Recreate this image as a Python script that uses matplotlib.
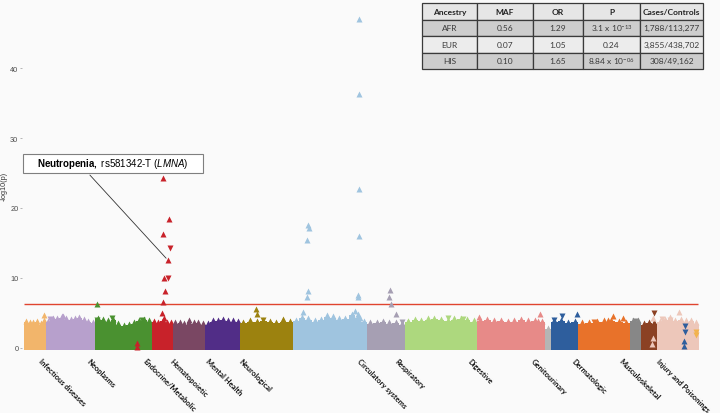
import numpy as np
import matplotlib
matplotlib.use("Agg")
import matplotlib.pyplot as plt
from matplotlib.patches import Rectangle

plt.rcParams["mathtext.fontset"] = "custom"
plt.rcParams["mathtext.rm"] = "Lato"
plt.rcParams["mathtext.bf"] = "Liberation Sans:bold"
plt.rcParams["mathtext.it"] = "Liberation Sans:italic"

# ---------------- data ----------------
cat_counts = [66, 147, 171, 63, 96, 105, 159, 222, 114, 216, 204, 18, 81, 156, 33, 48, 126]
cat_colors = ["#F2B56B", "#B7A0CC", "#4A9130", "#C8222A", "#7A4763", "#512D87",
              "#9C820F", "#9FC4DF", "#A69FB3", "#ADD87E", "#E78A88", "#B5B5B5",
              "#2E5E9D", "#E8722A", "#878787", "#8B4123", "#EDC7BA", "#F2B34E"]

# skyline of the dense mass of non-significant phenotypes (-log10 p), per category
skylines = [
    [3.6, 3.5, 3.4, 3.6, 3.3, 3.7],
    [3.6, 4.0, 4.1, 4.3, 4.0, 3.9, 4.1, 4.2, 3.9, 3.6, 3.5],
    [4.1, 3.9, 3.7, 3.9, 3.3, 3.1, 3.2, 3.4, 3.8, 3.9, 3.7],
    [3.6, 3.5, 3.8, 3.5, 3.4],
    [3.4, 3.5, 3.3, 3.7, 3.4, 3.5, 3.3],
    [3.3, 3.7, 3.8, 3.9, 3.8, 3.7, 3.6],
    [3.5, 3.7, 3.6, 3.8, 3.6, 3.5, 3.7, 3.6],
    [3.8, 4.2, 4.0, 3.7, 3.9, 4.4, 4.3, 4.0, 4.1, 4.6, 4.3, 3.6],
    [3.4, 3.5, 3.6, 3.4, 3.5, 3.3],
    [3.6, 3.9, 3.8, 4.0, 4.1, 3.9, 3.8, 4.0, 4.1, 3.9, 3.7],
    [3.8, 3.9, 3.7, 3.8, 3.6, 3.7, 3.9, 3.7, 3.8, 3.6],
    [2.6],
    [3.7, 3.8, 3.5, 3.6],
    [3.4, 3.5, 3.6, 3.7, 3.8, 3.6, 3.5],
    [3.8, 3.7],
    [3.3, 3.5, 3.4],
    [3.6, 3.9, 4.2, 3.8, 3.9, 3.7, 3.8, 3.4],
]

# individual phenotypes standing out (index, -log10 p, direction, colour group)
pt_x = [60, 117, 78,
        219, 219, 264, 354, 339, 339,
        417, 435, 417, 438, 432, 420, 432, 423, 417, 414, 420,
        696, 699, 717, 777,
        1005, 1005, 1005, 852, 855, 849, 1005, 852, 849, 1002, 1002, 837, 993, 1002, 1008,
        1098, 1095, 1101, 1116, 1134,
        1272, 1317, 1152,
        1365, 1548, 1542,
        1590, 1614, 1659, 1614,
        1767, 1797, 1752, 1710,
        1833,
        1890, 1887, 1884, 1887,
        1965, 1914, 1938,
        1983, 1983, 1980, 1980,
        2016, 2016]
pt_y = [4.7, 4.5, 4.1,
        6.2, 3.9, 4.3, 4.0, 0.6, 0.1,
        24.3, 18.4, 16.3, 14.2, 12.5, 9.9, 9.9, 8.1, 6.5, 4.9, 4.2,
        5.5, 4.8, 3.9, 4.1,
        47.0, 36.3, 22.7, 17.6, 17.1, 15.4, 16.0, 8.1, 7.2, 7.6, 7.2, 5.1, 5.3, 4.8, 4.2,
        8.2, 7.2, 6.2, 4.8, 3.7,
        4.3, 4.1, 3.8,
        4.4, 4.8, 3.8,
        3.9, 4.5, 4.8, 3.7,
        4.5, 4.3, 3.9, 3.6,
        3.8,
        4.9, 4.3, 0.5, 1.3,
        5.1, 4.1, 3.9,
        3.1, 2.3, 1.0, 0.2,
        2.3, 1.8]
pt_dir = ["^", "^", "v",
          "^", "v", "v", "v", "^", "^",
          "^", "^", "^", "v", "^", "^", "v", "^", "^", "^", "^",
          "^", "^", "v", "^",
          "^", "^", "^", "^", "^", "^", "^", "^", "^", "^", "^", "^", "^", "^", "^",
          "^", "^", "^", "^", "v",
          "v", "v", "^",
          "^", "^", "^",
          "v", "v", "^", "^",
          "^", "^", "^", "v",
          "v",
          "v", "^", "^", "^",
          "^", "v", "v",
          "v", "v", "^", "^",
          "v", "v"]
pt_grp = [0, 1, 1,
          2, 2, 2, 2, 3, 3,
          3, 3, 3, 3, 3, 3, 3, 3, 3, 3, 3,
          6, 6, 6, 6,
          7, 7, 7, 7, 7, 7, 7, 7, 7, 7, 7, 7, 7, 7, 7,
          8, 8, 8, 8, 8,
          9, 9, 9,
          10, 10, 10,
          12, 12, 12, 12,
          13, 13, 13, 13,
          14,
          15, 16, 16, 16,
          16, 16, 16,
          12, 12, 12, 12,
          17, 17]

threshold = 6.25
highlight_x, highlight_y = 432, 12.5

label_names = ["Infectious diseases", "Neoplasms", "Endocrine/Metabolic", "Hematopoietic",
               "Mental Health", "Neurological", "Circulatory systems", "Respiratory",
               "Digestive", "Genitourinary", "Dermatologic", "Musculoskeletal",
               "Injury and Poisonings"]
label_pos = [54, 198, 369, 447, 555, 654, 1011, 1122, 1341, 1533, 1653, 1797, 1908]

y_ticks = [0, 10, 20, 30, 40]

tbl_cols = ["Ancestry", "MAF", "OR", "P", "Cases/Controls"]
tbl_rows = [["AFR", "0.56", "1.29", r"3.1 x 10$^{-13}$", "1,788/113,277"],
            ["EUR", "0.07", "1.05", "0.24", "3,855/438,702"],
            ["HIS", "0.10", "1.65", r"8.84 x 10$^{-06}$", "308/49,162"]]

# ---------------- figure ----------------
BG = "#FAFAFA"
fig = plt.figure(figsize=(7.2, 4.14), dpi=100, facecolor=BG)
W, H = 720, 414
ax = fig.add_axes([22 / W, 1 - 355 / H, 680 / W, 350 / H], facecolor=BG)

starts = np.concatenate([[0], np.cumsum(cat_counts)[:-1]])
for i, (s, n, sky) in enumerate(zip(starts, cat_counts, skylines)):
    edges = np.linspace(s, s + n, len(sky) + 1)
    yv = list(sky) + [sky[-1]]
    ax.fill_between(edges, -0.3, yv, step="post", color=cat_colors[i], lw=0, zorder=2)
    centers = (edges[:-1] + edges[1:]) / 2
    ax.plot(centers, np.array(sky) + 0.2, ls="none", marker="^", ms=4.5,
            color=cat_colors[i], mec="none", zorder=2)

total = int(np.sum(cat_counts))
ax.hlines(threshold, 0, total - 3, color="#E0442F", lw=1.0, zorder=3)

for x, y, d, g in zip(pt_x, pt_y, pt_dir, pt_grp):
    ax.plot([x], [y], ls="none", marker=d, ms=4.8, color=cat_colors[g], mec="none", zorder=4)

ax.set_xlim(-6, 2034)
ax.set_ylim(-0.92, 49.2)
for sp in ax.spines.values():
    sp.set_visible(False)

ax.set_yticks(y_ticks)
ax.set_yticklabels([str(t) for t in y_ticks], fontsize=5.3, color="#4D4D4D",
                   family="Liberation Sans")
ax.tick_params(axis="y", length=1.6, width=0.5, color="#999999", pad=1)

ax.set_xticks(label_pos)
ax.set_xticklabels(label_names, rotation=-45, ha="left", va="top", rotation_mode="anchor",
                   fontsize=5.45, fontweight="bold", family="Lato", color="#111111")
ax.tick_params(axis="x", length=0, pad=2)

ax.set_ylabel("-log10(p)", fontsize=5.2, color="#333333", family="Liberation Sans")
ax.yaxis.set_label_coords(-0.021, 0.483)

# annotation
box_l, box_b, box_w, box_h = 23 / W, 1 - 174 / H, 180 / W, 19 / H
fig.patches.append(Rectangle((box_l, box_b), box_w, box_h, transform=fig.transFigure,
                             facecolor="white", edgecolor="#7F7F7F", lw=0.8, zorder=5))
fig.text(box_l + box_w / 2, box_b + box_h / 2,
         r"$\bf{Neutropenia,}$ rs581342-T ($\it{LMNA}$)",
         ha="center", va="center", fontsize=7, family="Liberation Sans", zorder=6)
ax.annotate("", xy=(highlight_x, highlight_y), xycoords="data",
            xytext=(88 / W, 1 - 174 / H), textcoords="figure fraction",
            arrowprops=dict(arrowstyle="-", color="#333333", lw=0.6), zorder=5)

# table
tax = fig.add_axes([422 / W, 1 - 70 / H, 281 / W, 66 / H])
tax.axis("off")
col_w = np.array([55, 56, 50, 57, 63], dtype=float)
col_w = col_w / col_w.sum()
tbl = tax.table(cellText=tbl_rows, colLabels=tbl_cols, colWidths=list(col_w),
                cellLoc="center", bbox=[0, 0, 1, 1])
tbl.auto_set_font_size(False)
row_colors = ["#E6E6E6", "#CDCDCD", "#ECECEC", "#CDCDCD"]
for (r, c), cell in tbl.get_celld().items():
    cell.set_edgecolor("#3A3A3A")
    cell.set_linewidth(0.9)
    cell.set_facecolor(row_colors[r])
    cell.get_text().set_fontsize(6.0)
    cell.get_text().set_family("Lato")
    cell.get_text().set_color("#222222" if r == 0 else "#3A3A3A")
    if r == 0:
        cell.get_text().set_fontweight("bold")

fig.savefig("out.png", dpi=100, facecolor=BG)
